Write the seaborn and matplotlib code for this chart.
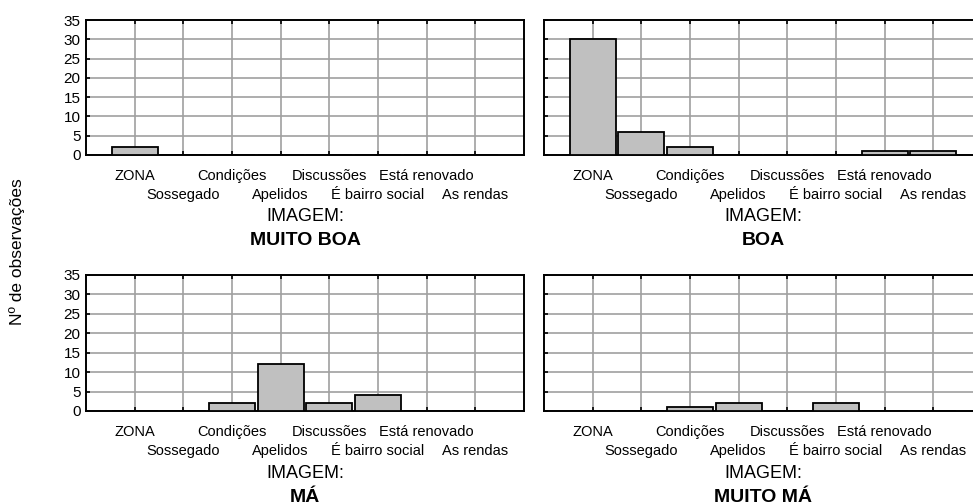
import matplotlib
matplotlib.use("Agg")
import matplotlib.pyplot as plt
import seaborn as sns
import pandas as pd

# Categories (motives) and counts per image rating
categorias = ["ZONA", "Sossegado", "Condições", "Apelidos",
              "Discussões", "É bairro social", "Está renovado", "As rendas"]
muito_boa = [2, 0, 0, 0, 0, 0, 0, 0]
boa = [30, 6, 2, 0, 0, 0, 1, 1]
ma = [0, 0, 2, 12, 2, 4, 0, 0]
muito_ma = [0, 0, 1, 2, 0, 2, 0, 0]
paineis = ["MUITO BOA", "BOA", "MÁ", "MUITO MÁ"]
y_ticks = [0, 5, 10, 15, 20, 25, 30, 35]

df = pd.DataFrame({
    "categoria": categorias * 4,
    "n": muito_boa + boa + ma + muito_ma,
    "imagem": [p for p in paineis for _ in categorias],
})

sns.set_style("white")
plt.rcParams["font.family"] = ["Liberation Sans", "DejaVu Sans"]
plt.rcParams.update({
    "text.color": "black",
    "axes.labelcolor": "black",
    "xtick.color": "black",
    "ytick.color": "black",
})

W, H = 973, 504
fig = plt.figure(figsize=(W / 100, H / 100), dpi=100)
fig.patch.set_facecolor("white")

# axes boxes in pixels: (left, top, width, height)
caixas = [(86, 20, 438, 135), (544, 20, 438, 135),
          (86, 275, 438, 136), (544, 275, 438, 136)]

for i, (painel, (l, t, w, h)) in enumerate(zip(paineis, caixas)):
    ax = fig.add_axes([l / W, (H - t - h) / H, w / W, h / H])
    sub = df[df["imagem"] == painel]
    sns.barplot(data=sub, x="categoria", y="n", order=categorias,
                color="#c0c0c0", saturation=1, edgecolor="black",
                linewidth=1.3, width=0.95, ax=ax, zorder=5)
    ax.set_xlim(-1, 8)
    ax.set_ylim(0, 35)
    ax.set_yticks(y_ticks)
    if i % 2 == 0:
        ax.set_yticklabels([str(v) for v in y_ticks], fontsize=11)
    else:
        ax.set_yticklabels([])
    ax.set_xticks([0, 2, 4, 6], labels=categorias[0::2])
    ax.set_xticks([1, 3, 5, 7], labels=categorias[1::2], minor=True)
    ax.tick_params(axis="x", which="major", direction="in", length=3,
                   width=1.2, pad=10, labelsize=10.5, top=True, bottom=True)
    ax.tick_params(axis="x", which="minor", direction="in", length=3,
                   width=1.2, pad=23.5, labelsize=10.5, top=True, bottom=True)
    ax.tick_params(axis="y", direction="in", length=3, width=1.2, pad=4,
                   left=True)
    ax.set_axisbelow(True)
    ax.grid(True, which="both", axis="x", color="#a0a0a0", lw=1.2, zorder=0)
    ax.grid(True, which="major", axis="y", color="#a0a0a0", lw=1.2, zorder=0)
    for s in ax.spines.values():
        s.set_color("black")
        s.set_linewidth(1.4)
        s.set_zorder(4)
    ax.set_ylabel("")
    ax.set_xlabel("IMAGEM:", fontsize=13)
    ax.xaxis.set_label_coords(0.5, -0.395)
    ax.text(0.5, -0.667, painel, transform=ax.transAxes, ha="center",
            va="baseline", fontsize=14, fontweight="bold")

fig.text(17 / W, 0.5, "Nº de observações", rotation=90, ha="center",
         va="center", fontsize=12.5)

fig.savefig("out.png", dpi=100, facecolor="white")
